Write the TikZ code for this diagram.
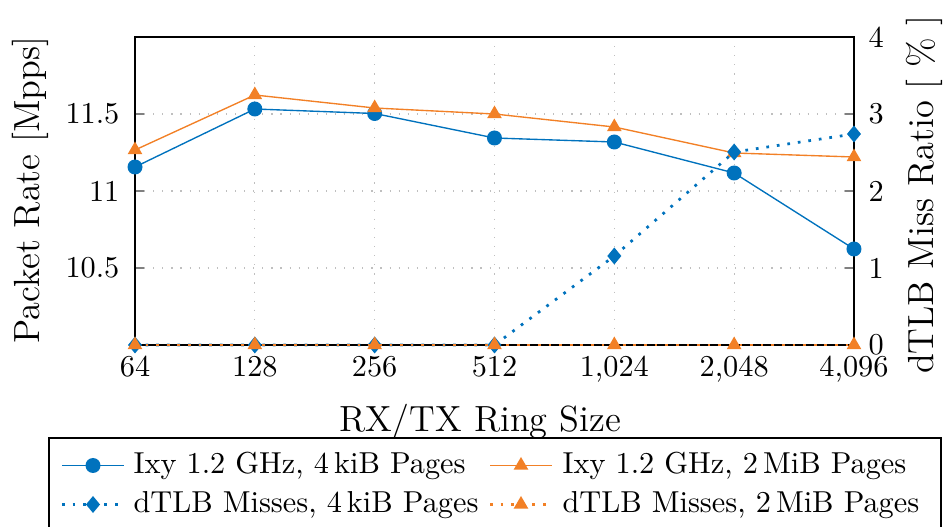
\documentclass[tikz,border=0pt]{standalone}
\usepackage{tikz}
\definecolor{cblue}{RGB}{0,114,189}
\definecolor{corange}{RGB}{242,128,38}
\begin{document}
\begin{tikzpicture}[x=0.33pt,y=-0.33pt,
  gridline/.style={draw=black!25, line width=0.4pt, dash pattern=on 0.4pt off 2.6pt},
  tickmark/.style={draw=black!50, line width=0.4pt},
  axisbox/.style={draw=black, line width=0.4pt},
  ixyline/.style={line width=0.45pt},
  tlbline/.style={line width=0.9pt, dash pattern=on 0.9pt off 2.6pt},
  ticklabel/.style={inner sep=0pt, font=\normalsize},
  axlabel/.style={inner sep=0pt, font=\large},
  legtext/.style={inner sep=0pt, anchor=base west, font=\normalsize},
  circmark/.pic={\fill[cblue] (0,0) circle[radius=7.5];},
  tribmark/.pic={\fill (0,-8.5) -- (7.4,4.25) -- (-7.4,4.25) -- cycle;},
  diamark/.pic={\fill[cblue] (0,-8.5) -- (7,0) -- (0,8.5) -- (-7,0) -- cycle;}
]
\useasboundingbox (0,0) rectangle (944,527);
\clip (0,0) rectangle (944,527);

% grid
\foreach \i in {1,...,6}{\draw[gridline] ({135+119.83*\i},37) -- ({135+119.83*\i},345);}
\foreach \yy in {114,191,268}{\draw[gridline] (135,\yy) -- (854,\yy);}

% ticks
\foreach \yy in {114,191,268}{\draw[tickmark] (135,\yy) -- (144,\yy);}
\foreach \yy in {37,114,191,268,345}{\draw[tickmark] (854,\yy) -- (845,\yy);}

% axis box
\draw[axisbox] (135,37) rectangle (854,345);

% data coordinates
\foreach \i/\yb/\yo/\yd in {0/167/150/345, 1/109/95/345, 2/113.5/108/345, 3/138/114/345, 4/142/127/256, 5/173/153/152, 6/249/157/134}{
  \coordinate (b\i) at ({135+119.83*\i},\yb);
  \coordinate (o\i) at ({135+119.83*\i},\yo);
  \coordinate (d\i) at ({135+119.83*\i},\yd);
  \coordinate (e\i) at ({135+119.83*\i},345);
}

% Ixy 4kiB
\draw[ixyline, cblue] (b0) -- (b1) -- (b2) -- (b3) -- (b4) -- (b5) -- (b6);
\foreach \i in {0,...,6}{\pic at (b\i) {circmark};}
% Ixy 2MiB
\draw[ixyline, corange] (o0) -- (o1) -- (o2) -- (o3) -- (o4) -- (o5) -- (o6);
\foreach \i in {0,...,6}{\pic[corange] at (o\i) {tribmark};}
% dTLB 4kiB
\draw[tlbline, cblue] (d0) -- (d1) -- (d2) -- (d3) -- (d4) -- (d5) -- (d6);
\foreach \i in {0,...,6}{\pic at (d\i) {diamark};}
% dTLB 2MiB
\draw[tlbline, corange] (e0) -- (e1) -- (e2) -- (e3) -- (e4) -- (e5) -- (e6);
\foreach \i in {0,...,6}{\pic[corange] at (e\i) {tribmark};}

% x tick labels
\foreach \i/\t in {0/64,1/128,2/256,3/512,4/{1,024},5/{2,048},6/{4,096}}{
  \node[ticklabel, anchor=base] (xt\i) at ({135+119.83*\i},377) {\t};}
% left tick labels
\node[ticklabel, anchor=east] (yl1) at (120,114) {11.5};
\node[ticklabel, anchor=east] (yl2) at (120,191) {11};
\node[ticklabel, anchor=east] (yl3) at (120,268) {10.5};
% right tick labels
\foreach \v/\yy in {0/345,1/268,2/191,3/114,4/37}{
  \node[ticklabel, anchor=west] (yr\v) at (868,\yy) {\v};}

% axis labels
\node[axlabel, rotate=90] (ylab) at (30,190) {Packet Rate [Mpps]};
\node[axlabel, rotate=90] (y2lab) at (924,195) {dTLB Miss Ratio [ \% ]};
\node[axlabel, anchor=base] (xlab) at (480,432) {RX/TX Ring Size};

% legend
\draw[axisbox, fill=white] (49,438) rectangle (941,580);
\coordinate (la1) at (62,465.5); \coordinate (lb1) at (124,465.5); \coordinate (lm1) at (93,465.5);
\coordinate (la2) at (62,504.5); \coordinate (lb2) at (124,504.5); \coordinate (lm2) at (93,504.5);
\coordinate (lc1) at (490,465.5); \coordinate (ld1) at (552,465.5); \coordinate (ln1) at (521,465.5);
\coordinate (lc2) at (490,504.5); \coordinate (ld2) at (552,504.5); \coordinate (ln2) at (521,504.5);
\draw[ixyline, cblue] (la1) -- (lb1); \pic at (lm1) {circmark};
\draw[tlbline, cblue] (la2) -- (lb2); \pic at (lm2) {diamark};
\draw[ixyline, corange] (lc1) -- (ld1); \pic[corange] at (ln1) {tribmark};
\draw[tlbline, corange] (lc2) -- (ld2); \pic[corange] at (ln2) {tribmark};
\node[legtext] (lt1) at (133,473) {Ixy 1.2 GHz, 4\,kiB Pages};
\node[legtext] (lt2) at (133,512) {dTLB Misses, 4\,kiB Pages};
\node[legtext] (lt3) at (562,473) {Ixy 1.2 GHz, 2\,MiB Pages};
\node[legtext] (lt4) at (562,512) {dTLB Misses, 2\,MiB Pages};
\end{tikzpicture}
\end{document}
